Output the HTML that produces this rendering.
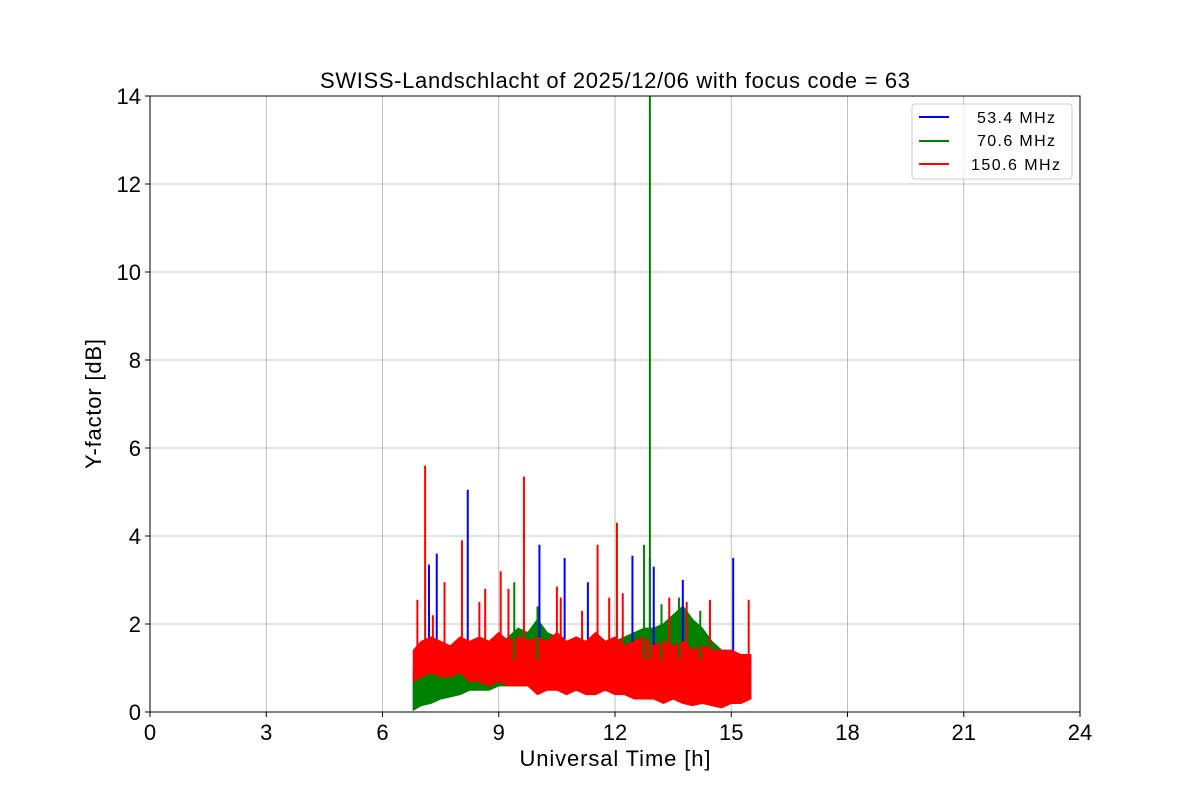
<!DOCTYPE html>
<html><head><meta charset="utf-8"><style>
body{margin:0;background:#fff;}
svg{display:block;font-family:"Liberation Sans","DejaVu Sans",sans-serif;}
</style></head><body>
<svg id="chart" width="1200" height="800">
<defs><clipPath id="pc"><rect x="150" y="96" width="930" height="616"/></clipPath></defs>
<rect width="1200" height="800" fill="#fff"/>
<g id="grid"></g><g id="series" clip-path="url(#pc)"></g><g id="axes"></g>
</svg>
<script>
const xTicks=[0,3,6,9,12,15,18,21,24];
const yTicks=[0,2,4,6,8,10,12,14];
const envTimes=[6.8,7.0,7.25,7.5,7.75,8.0,8.25,8.5,8.75,9.0,9.25,9.5,9.75,10.0,10.25,10.5,10.75,11.0,11.25,11.5,11.75,12.0,12.25,12.5,12.75,13.0,13.25,13.5,13.75,14.0,14.25,14.5,14.75,15.0,15.25,15.5];
const blueLo=[0.1,0.3,0.5,0.6,0.6,0.7,0.7,0.6,0.6,0.6,0.7,0.7,0.7,0.6,0.6,0.6,0.6,0.6,0.6,0.6,0.5,0.5,0.5,0.5,0.5,0.4,0.4,0.3,0.3,0.3,0.3,0.3,0.3,0.3,0.3,0.3];
const blueHi=[1.0,1.2,1.3,1.4,1.4,1.4,1.5,1.4,1.4,1.4,1.4,1.5,1.4,1.5,1.4,1.5,1.4,1.4,1.5,1.4,1.4,1.5,1.4,1.5,1.5,1.4,1.5,1.5,1.6,1.5,1.4,1.4,1.4,1.3,1.3,1.2];
const greenLo=[0.05,0.15,0.2,0.3,0.35,0.4,0.5,0.5,0.5,0.6,0.6,0.6,0.6,0.6,0.6,0.6,0.6,0.5,0.5,0.5,0.5,0.5,0.4,0.4,0.4,0.4,0.3,0.3,0.3,0.3,0.3,0.3,0.3,0.3,0.3,0.3];
const greenHi=[0.8,0.9,1.0,1.0,1.1,1.2,1.3,1.4,1.4,1.5,1.7,1.9,1.8,2.1,1.8,1.7,1.6,1.5,1.6,1.5,1.6,1.6,1.7,1.8,1.9,1.9,2.0,2.2,2.4,2.1,1.9,1.6,1.4,1.3,1.2,1.1];
const redLo=[0.7,0.8,0.9,0.8,0.8,0.9,0.7,0.7,0.6,0.7,0.6,0.6,0.6,0.4,0.5,0.5,0.4,0.5,0.4,0.4,0.5,0.4,0.4,0.3,0.3,0.3,0.2,0.3,0.2,0.15,0.2,0.15,0.1,0.2,0.2,0.3];
const redHi=[1.4,1.6,1.7,1.6,1.5,1.7,1.6,1.7,1.6,1.8,1.6,1.7,1.6,1.7,1.6,1.8,1.6,1.7,1.6,1.8,1.6,1.7,1.5,1.6,1.7,1.5,1.6,1.5,1.6,1.4,1.5,1.4,1.4,1.4,1.3,1.3];
const blueSpikeT=[7.2,7.4,8.2,10.05,10.7,11.3,12.45,12.9,13.0,13.75,15.05];
const blueSpikeV=[3.35,3.6,5.05,3.8,3.5,2.95,3.55,3.5,3.3,3.0,3.5];
const greenSpikeT=[9.4,10.0,12.75,12.9,13.2,13.65,14.2];
const greenSpikeV=[2.95,2.4,3.8,14.5,2.45,2.6,2.3];
const redSpikeT=[6.9,7.1,7.3,7.6,8.05,8.5,8.65,9.05,9.25,9.65,10.5,10.6,11.15,11.55,11.85,12.05,12.2,13.4,13.85,14.45,15.45];
const redSpikeV=[2.55,5.6,2.2,2.95,3.9,2.5,2.8,3.2,2.8,5.35,2.85,2.6,2.3,3.8,2.6,4.3,2.7,2.6,2.5,2.55,2.55];

const X0=150,X1=1080,Y0=712,Y1=96;
const xs=t=>X0+(t-0)/24*(X1-X0);
const ys=v=>Y0-v/14*(Y0-Y1);
const NS='http://www.w3.org/2000/svg';
function mk(tag,attrs,parent){const e=document.createElementNS(NS,tag);for(const k in attrs)e.setAttribute(k,attrs[k]);parent.appendChild(e);return e;}
const grid=document.getElementById('grid'),ser=document.getElementById('series'),ax=document.getElementById('axes');
xTicks.forEach(t=>{
 const l=mk('line',{x1:xs(t),x2:xs(t),y1:Y1,y2:Y0,stroke:'#b0b0b0','stroke-width':0.8},grid);
 
 
 mk('line',{x1:xs(t),x2:xs(t),y1:Y0,y2:Y0+5,stroke:'#000'},ax);
 const tx=mk('text',{x:xs(t),y:Y0+28,'text-anchor':'middle','font-size':22},ax);tx.textContent=t;
 
 
});
yTicks.forEach(v=>{
 const l=mk('line',{x1:X0,x2:X1,y1:ys(v),y2:ys(v),stroke:'#b0b0b0','stroke-width':0.8},grid);
 
 
 mk('line',{x1:X0-5,x2:X0,y1:ys(v),y2:ys(v),stroke:'#000'},ax);
 const tx=mk('text',{x:X0-9,y:ys(v)+8,'text-anchor':'end','font-size':22},ax);tx.textContent=v;
 
 
});
function band(lo,hi,col,name){
 let p=envTimes.map((t,i)=>xs(t)+','+ys(hi[i])).join(' ')+' '+envTimes.slice().reverse().map((t,j)=>{const i=envTimes.length-1-j;return xs(t)+','+ys(lo[i]);}).join(' ');
 const e=mk('polygon',{points:p,fill:col,stroke:col,'stroke-width':1.5},ser);
 
 
}
function spikes(T,V,col,name){
 T.forEach((t,i)=>{const e=mk('line',{x1:xs(t),x2:xs(t),y1:ys(1.2),y2:ys(V[i]),stroke:col,'stroke-width':2},ser);
 
 });
}
band(blueLo,blueHi,'#0000ff','series-53-4-mhz');
band(greenLo,greenHi,'#008000','series-70-6-mhz');
spikes(blueSpikeT,blueSpikeV,'#0000ff','spike-53-4-mhz');
band(redLo,redHi,'#ff0000','series-150-6-mhz');
spikes(redSpikeT,redSpikeV,'#ff0000','spike-150-6-mhz');
spikes(greenSpikeT,greenSpikeV,'#008000','spike-70-6-mhz');
</script>
<svg style="position:absolute;left:0;top:0" width="1200" height="800">
<rect x="150" y="96" width="930" height="616" fill="none" stroke="#000" stroke-width="1"/>
<text x="615" y="88" text-anchor="middle" font-size="22" textLength="590">SWISS-Landschlacht of 2025/12/06 with focus code = 63</text>
<text x="615" y="766" text-anchor="middle" font-size="22" textLength="191">Universal Time [h]</text>
<text transform="translate(101,404) rotate(-90)" text-anchor="middle" font-size="22" textLength="130">Y-factor [dB]</text>
<g>
<rect x="912" y="104" width="160" height="75" rx="3" fill="#fff" fill-opacity="0.8" stroke="#ccc"/>
<line x1="919" x2="949" y1="117" y2="117" stroke="#0000ff" stroke-width="2"/>
<text x="977" y="123" font-size="16" textLength="78">53.4 MHz</text>
<line x1="919" x2="949" y1="141" y2="141" stroke="#008000" stroke-width="2"/>
<text x="977" y="146" font-size="16" textLength="78">70.6 MHz</text>
<line x1="919" x2="949" y1="164" y2="164" stroke="#ff0000" stroke-width="2"/>
<text x="971" y="170" font-size="16" textLength="89">150.6 MHz</text>
</g>
</svg>
</body></html>
